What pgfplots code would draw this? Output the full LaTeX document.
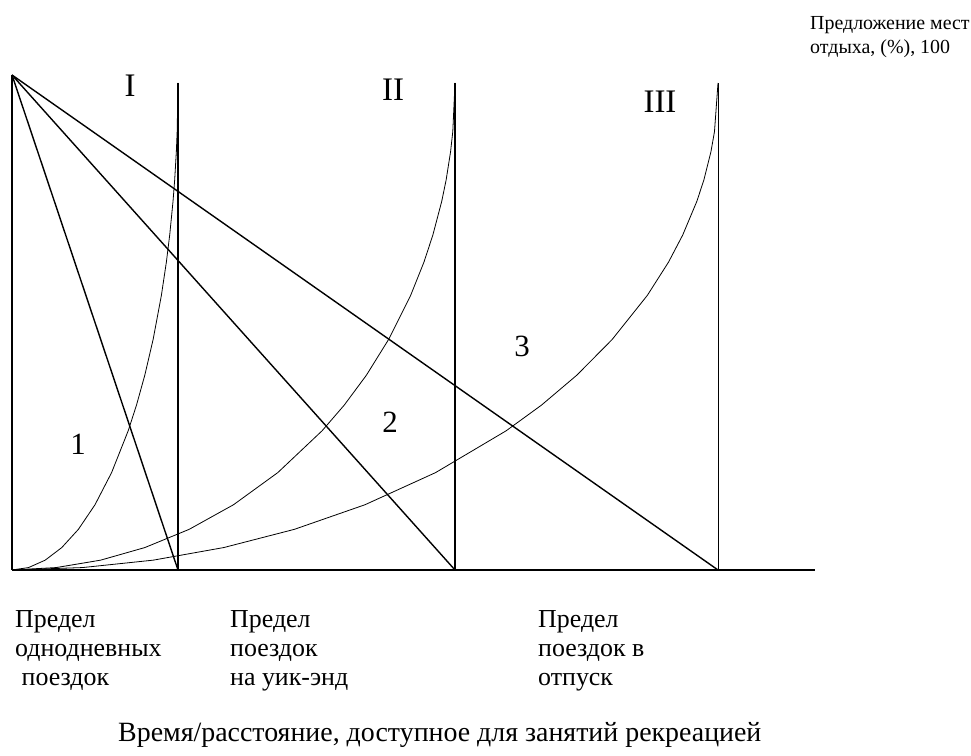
\documentclass[border=0pt]{standalone}
\usepackage{pgfplots}
\pgfplotsset{compat=1.18}
\usepackage{pgfplotstable}
\usepackage{fontspec}
\setmainfont{Liberation Serif}
\pgfplotstableread{
t h
0 0
0.1 0.0050
0.2 0.0202
0.3 0.0461
0.4 0.0835
0.5 0.1340
0.6 0.2000
0.7 0.2859
0.75 0.3386
0.8 0.4000
0.85 0.4732
0.9 0.5641
0.93 0.6324
0.95 0.6878
0.97 0.7569
0.98 0.8010
0.99 0.8589
0.995 0.9001
1 1
}\arc
\tikzset{thick line/.style={black, line width=1.4bp, mark=none},
         thin line/.style={black, line width=0.8bp, mark=none}}
\begin{document}
\begin{tikzpicture}
\begin{axis}[
  width=971bp, height=756bp, scale only axis,
  xmin=0, xmax=971, ymin=0, ymax=756,
  hide axis, clip=false,
]
% baseline axes
\addplot[thick line] coordinates {(12,186) (815,186)};
\addplot[thick line] coordinates {(12,186) (12,681)};
% diagonals from apex
\addplot[thick line] coordinates {(12,681) (178,186)};
\addplot[thick line] coordinates {(12,681) (455,186)};
\addplot[thick line] coordinates {(12,681) (718,186)};
% vertical limits
\addplot[thick line] coordinates {(178,186) (178,673)};
\addplot[thick line] coordinates {(455,186) (455,673)};
\addplot[black, line width=1bp, mark=none] coordinates {(718,186) (718,673)};
% curves
\addplot[thin line] table[x expr=12+166*\thisrow{t}, y expr=186+487*\thisrow{h}] {\arc};
\addplot[thin line] table[x expr=12+443*\thisrow{t}, y expr=186+487*\thisrow{h}] {\arc};
\addplot[thin line] table[x expr=12+706*\thisrow{t}, y expr=186+487*\thisrow{h}] {\arc};
% labels
\node[anchor=base, font=\fontsize{33}{38}\selectfont] at (axis cs:130,659) {I};
\node[anchor=base, font=\fontsize{33}{38}\selectfont] at (axis cs:393,655) {II};
\node[anchor=base, font=\fontsize{33}{38}\selectfont] at (axis cs:660,643) {III};
\node[anchor=base, font=\fontsize{31}{36}\selectfont] at (axis cs:78,301) {1};
\node[anchor=base, font=\fontsize{31}{36}\selectfont] at (axis cs:390,323) {2};
\node[anchor=base, font=\fontsize{31}{36}\selectfont] at (axis cs:522,399) {3};
\node[anchor=base west, inner sep=0pt, align=left, font=\fontsize{20}{24.5}\selectfont] at (axis cs:810,702) {Предложение мест\\отдыха, (\%), 100};
\node[anchor=base west, inner sep=0pt, align=left, font=\fontsize{26}{29.5}\selectfont] at (axis cs:15,70) {Предел\\однодневных\\\ поездок};
\node[anchor=base west, inner sep=0pt, align=left, font=\fontsize{26}{29.5}\selectfont] at (axis cs:230,70) {Предел\\поездок\\на уик-энд};
\node[anchor=base west, inner sep=0pt, align=left, font=\fontsize{26}{29.5}\selectfont] at (axis cs:538,70) {Предел\\поездок в\\отпуск};
\node[anchor=base west, inner sep=0pt, font=\fontsize{28}{34}\selectfont] at (axis cs:118,14) {Время/расстояние, доступное для занятий рекреацией};
\end{axis}
\pgfresetboundingbox
\path[use as bounding box] (current axis.south west) rectangle (current axis.north east);
\end{tikzpicture}
\end{document}
